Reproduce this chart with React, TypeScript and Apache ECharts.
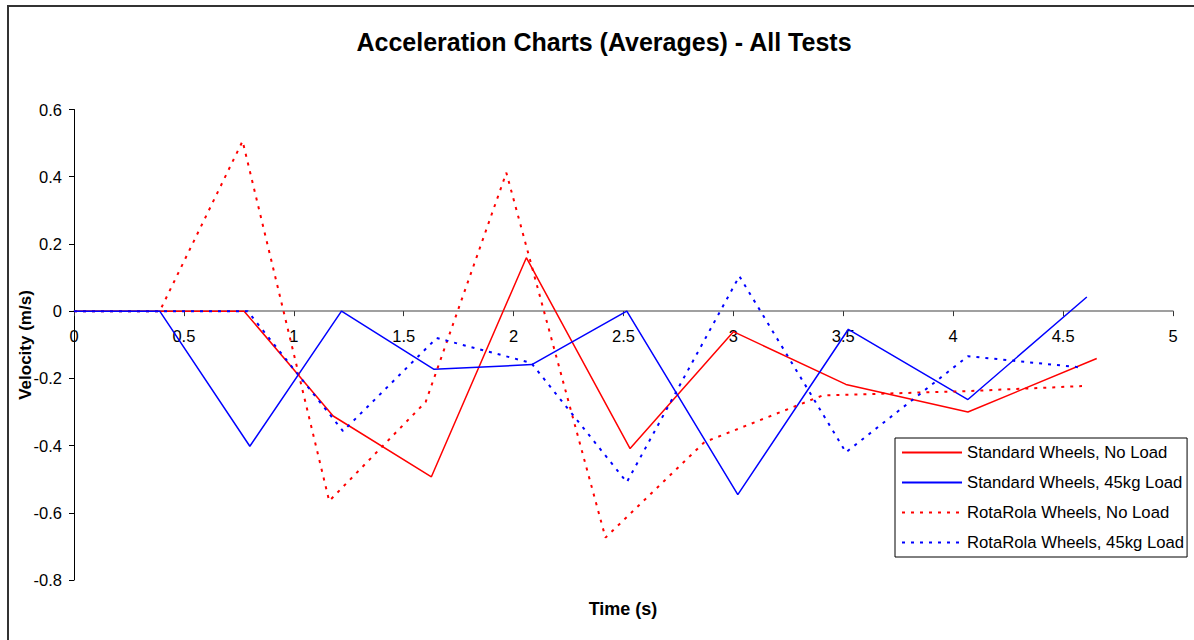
import React, { useEffect, useRef } from "react";
import * as echarts from "echarts";

const seriesNames = [
  "Standard Wheels, No Load",
  "Standard Wheels, 45kg Load",
  "RotaRola Wheels, No Load",
  "RotaRola Wheels, 45kg Load",
];

const stdNoLoadT = [0, 0.39, 0.774, 1.179, 1.626, 2.058, 2.53, 3.0, 3.512, 4.067, 4.653];
const stdNoLoadV = [0, 0, 0, -0.312, -0.493, 0.159, -0.409, -0.061, -0.218, -0.3, -0.141];

const std45T = [0, 0.39, 0.8, 1.217, 1.638, 2.083, 2.515, 3.02, 3.523, 4.067, 4.608];
const std45V = [0, 0, -0.402, 0, -0.173, -0.159, 0, -0.546, -0.054, -0.263, 0.042];

const rotaNoLoadT = [0, 0.39, 0.767, 1.161, 1.6, 1.967, 2.418, 2.868, 3.405, 4.06, 4.586];
const rotaNoLoadV = [0, 0, 0.506, -0.565, -0.27, 0.412, -0.674, -0.39, -0.251, -0.238, -0.223];

const rota45T = [0, 0.39, 0.79, 1.224, 1.65, 2.08, 2.515, 3.027, 3.512, 4.067, 4.588];
const rota45V = [0, 0, 0, -0.357, -0.08, -0.154, -0.509, 0.104, -0.42, -0.134, -0.168];

const yMin = -0.8;
const yMax = 0.6;

const pairs = (t: number[], v: number[]) => t.map((x, i) => [x, v[i]]);

const FONT = '"Liberation Sans", Arial, Helvetica, sans-serif';

export default function App() {
  const ref = useRef<HTMLDivElement>(null);
  useEffect(() => {
    if (!ref.current) return;
    const chart = echarts.init(ref.current, undefined, { renderer: "svg" });
    const gridTop = 109.5;
    const gridBottom = 60;
    const gridH = 640 - gridTop - gridBottom;
    const zeroOffset = -(gridH * (0 - yMin)) / (yMax - yMin);
    const mk = (i: number, t: number[], v: number[], color: string, dashed: boolean) => ({
      name: seriesNames[i],
      type: "line",
      data: pairs(t, v),
      symbol: "none",
      showSymbol: false,
      lineStyle: {
        color,
        width: dashed ? 2 : 1.5,
        type: dashed ? [3, 6] : "solid",
      },
      itemStyle: { color },
      z: 3,
    });
    chart.setOption({
      animation: false,
      backgroundColor: "#ffffff",
      textStyle: { fontFamily: FONT },
      grid: { left: 74, right: 21, top: gridTop, bottom: gridBottom },
      xAxis: {
        type: "value",
        min: 0,
        max: 5,
        interval: 0.5,
        position: "bottom",
        offset: zeroOffset,
        axisLine: { onZero: false, lineStyle: { color: "#808080", width: 1.5 } },
        axisTick: { show: true, length: 5, lineStyle: { color: "#333" } },
        axisLabel: { color: "#000", fontSize: 16.5, fontFamily: FONT, margin: 16 },
        splitLine: { show: false },
      },
      yAxis: {
        type: "value",
        min: yMin,
        max: yMax,
        interval: 0.2,
        axisLine: { show: true, onZero: false, lineStyle: { color: "#000", width: 1 } },
        axisTick: { show: true, length: 5, lineStyle: { color: "#000" } },
        axisLabel: { color: "#000", fontSize: 16.5, fontFamily: FONT, margin: 12 },
        splitLine: { show: false },
      },
      legend: {
        orient: "vertical",
        left: 895,
        top: 438,
        itemWidth: 60,
        itemHeight: 14,
        itemGap: 13,
        padding: [6, 3, 6, 6],
        borderColor: "#000",
        borderWidth: 1,
        backgroundColor: "#fff",
        itemStyle: { opacity: 0 },
        textStyle: { color: "#000", fontSize: 16.7, fontFamily: FONT },
        data: seriesNames,
      },
      graphic: [
        {
          type: "rect",
          shape: { x: 8, y: 6, width: 1200, height: 700 },
          style: { fill: "none", stroke: "#333", lineWidth: 2 },
          silent: true,
        },
        {
          type: "text",
          x: 604,
          y: 42,
          style: {
            text: "Acceleration Charts (Averages) - All Tests",
            font: `bold 25px ${FONT}`,
            fill: "#000",
            textAlign: "center",
            textVerticalAlign: "middle",
          },
        },
        {
          type: "text",
          x: 623,
          y: 609,
          style: {
            text: "Time (s)",
            font: `bold 18px ${FONT}`,
            fill: "#000",
            textAlign: "center",
            textVerticalAlign: "middle",
          },
        },
        {
          type: "text",
          x: 25,
          y: 345,
          rotation: Math.PI / 2,
          style: {
            text: "Velocity (m/s)",
            font: `bold 17px ${FONT}`,
            fill: "#000",
            textAlign: "center",
            textVerticalAlign: "middle",
          },
        },
      ],
      series: [
        mk(0, stdNoLoadT, stdNoLoadV, "#ff0000", false),
        mk(1, std45T, std45V, "#0000ff", false),
        mk(2, rotaNoLoadT, rotaNoLoadV, "#ff0000", true),
        mk(3, rota45T, rota45V, "#0000ff", true),
      ],
    });
    return () => chart.dispose();
  }, []);
  return (
    <div
      ref={ref}
      style={{ position: "fixed", left: 0, top: 0, width: 1194, height: 640, background: "#fff" }}
    />
  );
}
